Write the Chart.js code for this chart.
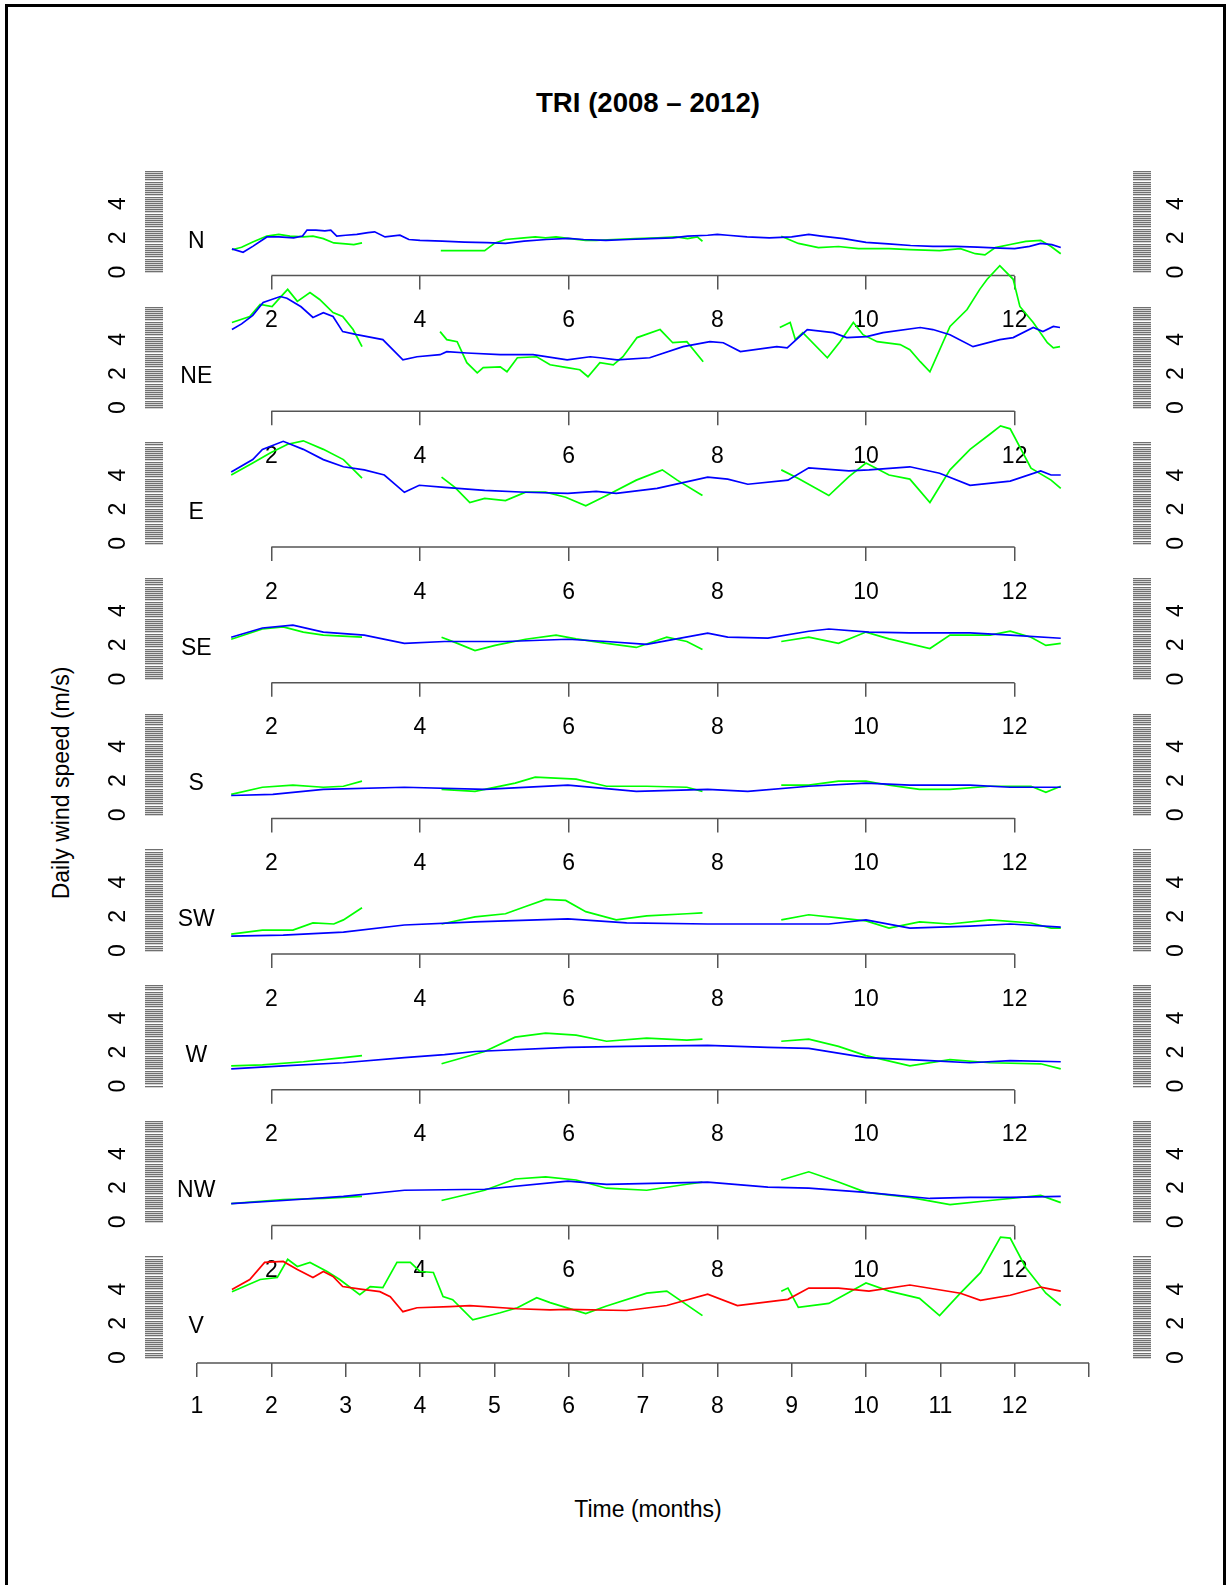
<!DOCTYPE html>
<html>
<head>
<meta charset="utf-8">
<title>TRI (2008 – 2012)</title>
<script src="https://cdn.jsdelivr.net/npm/chart.js@4.4.1/dist/chart.umd.min.js"></script>
<style>
  html, body { margin: 0; padding: 0; background: #fff; }
  #page { position: relative; width: 1226px; height: 1585px; overflow: hidden;
          font-family: "Liberation Sans", Arial, sans-serif; color: #000; }
  #page canvas { position: absolute; left: 0; top: 0; }
  .frame { position: absolute; left: 5px; top: 4px; width: 1215px; height: 1600px;
           border-left: 3px solid #000; border-top: 3px solid #000; border-right: 3px solid #000; }
  .main-title { position: absolute; left: 0; width: 1296px; top: 87px; text-align: center;
                font-weight: bold; font-size: 27.6px; line-height: 32px; }
  .x-title { position: absolute; left: 0; width: 1296px; top: 1495px; text-align: center;
             font-size: 23px; line-height: 28px; }
  .y-title { position: absolute; left: 61px; top: 783px; white-space: nowrap; font-size: 23px;
             line-height: 28px; transform: translate(-50%, -50%) rotate(-90deg); }
</style>
</head>
<body>
<div id="page">
  <div class="frame"></div>
  <div class="main-title">TRI (2008 – 2012)</div>
  <div class="y-title">Daily wind speed (m/s)</div>
  <div class="x-title">Time (months)</div>
</div>
<script>
// ---- Data: smoothed daily wind speed (m/s) against time in months ----
// Each series is a list of [month, speed]; null marks a break in the record.

const nBlue = [[1.47,1.35],[1.62,1.15],[1.75,1.5],[1.94,2.05],[2.1,2.05],[2.3,2.0],[2.42,2.1],[2.48,2.45],[2.6,2.45],[2.72,2.4],[2.8,2.45],[2.88,2.1],[3.0,2.15],[3.15,2.2],[3.3,2.3],[3.39,2.35],[3.53,2.05],[3.73,2.15],[3.85,1.9],[4.0,1.85],[4.3,1.8],[4.6,1.75],[4.9,1.72],[5.15,1.67],[5.4,1.8],[5.7,1.9],[5.99,1.97],[6.2,1.9],[6.5,1.85],[6.8,1.9],[7.1,1.95],[7.4,2.0],[7.6,2.1],[7.87,2.15],[8.0,2.2],[8.14,2.15],[8.4,2.05],[8.7,2.0],[9.0,2.05],[9.23,2.2],[9.4,2.1],[9.7,1.95],[10.0,1.73],[10.3,1.65],[10.6,1.55],[10.9,1.5],[11.2,1.5],[11.5,1.45],[11.8,1.4],[12.0,1.37],[12.2,1.5],[12.35,1.67],[12.5,1.6],[12.62,1.43]];
const nGreen = [[1.47,1.3],[1.6,1.45],[1.75,1.75],[1.94,2.1],[2.1,2.2],[2.25,2.1],[2.43,2.05],[2.56,2.1],[2.7,1.95],[2.84,1.7],[3.0,1.65],[3.11,1.6],[3.22,1.7],null,
  [4.28,1.25],[4.5,1.25],[4.87,1.25],[5.01,1.7],[5.15,1.9],[5.4,2.0],[5.55,2.05],[5.69,2.0],[5.83,2.05],[5.99,1.97],[6.23,1.85],[6.37,1.85],[6.6,1.9],[6.9,1.95],[7.2,2.0],[7.45,2.05],[7.6,1.95],[7.73,2.05],[7.8,1.8],null,
  [8.86,2.09],[9.09,1.67],[9.36,1.43],[9.63,1.49],[9.9,1.37],[10.31,1.37],[10.59,1.31],[10.99,1.25],[11.27,1.37],[11.47,1.07],[11.6,1.0],[11.74,1.43],[11.94,1.61],[12.15,1.79],[12.35,1.85],[12.49,1.49],[12.62,1.07]];

const neBlue = [[1.47,4.57],[1.6,4.9],[1.75,5.4],[1.89,6.16],[2.12,6.5],[2.21,6.4],[2.4,5.9],[2.56,5.28],[2.7,5.56],[2.83,5.33],[2.96,4.45],[3.15,4.27],[3.5,3.98],[3.77,2.8],[3.96,2.98],[4.27,3.1],[4.36,3.28],[4.63,3.2],[5.08,3.1],[5.52,3.1],[5.98,2.8],[6.29,2.98],[6.42,2.92],[6.65,2.8],[7.09,2.92],[7.54,3.57],[7.9,3.86],[8.08,3.8],[8.31,3.28],[8.8,3.57],[8.94,3.5],[9.21,4.57],[9.56,4.39],[9.74,4.1],[10.01,4.16],[10.23,4.39],[10.73,4.69],[10.9,4.57],[11.13,4.27],[11.44,3.57],[11.8,3.98],[11.98,4.1],[12.25,4.69],[12.38,4.45],[12.52,4.75],[12.61,4.69]];
const neGreen = [[1.47,4.98],[1.71,5.33],[1.85,6.04],[2.01,5.92],[2.12,6.45],[2.22,6.92],[2.35,6.22],[2.52,6.74],[2.65,6.33],[2.83,5.56],[2.96,5.33],[3.1,4.57],[3.22,3.57],null,
  [4.27,4.45],[4.36,3.98],[4.5,3.86],[4.63,2.63],[4.77,2.04],[4.85,2.34],[5.08,2.39],[5.17,2.1],[5.31,2.92],[5.57,2.98],[5.75,2.51],[5.98,2.34],[6.15,2.22],[6.26,1.81],[6.42,2.63],[6.6,2.51],[6.73,2.98],[6.92,4.1],[7.23,4.57],[7.4,3.8],[7.59,3.86],[7.81,2.69],null,
  [8.84,4.69],[8.98,4.98],[9.05,3.98],[9.15,4.39],[9.48,2.92],[9.65,3.86],[9.83,4.98],[9.96,4.27],[10.15,3.86],[10.46,3.69],[10.59,3.39],[10.73,2.69],[10.86,2.1],[11.13,4.75],[11.36,5.74],[11.53,6.92],[11.63,7.51],[11.8,8.3],[11.98,7.51],[12.07,5.92],[12.25,4.98],[12.44,3.8],[12.52,3.5],[12.61,3.57]];

const eBlue = [[1.46,4.18],[1.75,4.9],[1.88,5.5],[2.16,5.97],[2.43,5.5],[2.7,4.9],[2.97,4.48],[3.25,4.3],[3.52,4.0],[3.79,2.99],[3.99,3.4],[4.33,3.28],[4.87,3.1],[5.42,2.99],[5.99,2.93],[6.37,3.04],[6.64,2.93],[7.19,3.22],[7.87,3.88],[8.14,3.76],[8.41,3.46],[8.95,3.7],[9.23,4.42],[9.77,4.24],[10.04,4.3],[10.59,4.48],[10.99,4.1],[11.4,3.4],[11.94,3.64],[12.35,4.24],[12.49,4.0],[12.62,4.0]];
const eGreen = [[1.46,4.0],[1.75,4.7],[1.99,5.3],[2.22,5.8],[2.43,6.0],[2.7,5.5],[2.97,4.9],[3.22,3.82],null,
  [4.29,3.88],[4.47,3.28],[4.67,2.39],[4.87,2.63],[5.15,2.5],[5.42,3.0],[5.69,3.0],[5.96,2.7],[6.23,2.2],[6.51,2.8],[6.91,3.7],[7.26,4.3],[7.46,3.7],[7.8,2.8],null,
  [8.86,4.3],[9.09,3.8],[9.5,2.8],[9.77,3.9],[10.0,4.7],[10.31,4.0],[10.59,3.76],[10.86,2.39],[11.13,4.3],[11.4,5.5],[11.67,6.4],[11.81,6.87],[11.94,6.7],[12.22,4.4],[12.49,3.7],[12.62,3.22]];

const seBlue = [[1.46,2.45],[1.88,2.99],[2.29,3.16],[2.7,2.75],[3.25,2.57],[3.79,2.09],[4.33,2.2],[5.15,2.2],[5.99,2.33],[6.51,2.2],[7.05,2.03],[7.87,2.69],[8.14,2.45],[8.68,2.4],[9.23,2.8],[9.5,2.93],[10.04,2.75],[10.59,2.7],[11.4,2.7],[11.94,2.57],[12.62,2.39]];
const seGreen = [[1.46,2.33],[1.88,2.93],[2.16,3.05],[2.43,2.75],[2.7,2.57],[3.22,2.45],null,
  [4.29,2.45],[4.47,2.15],[4.74,1.67],[5.01,1.97],[5.42,2.33],[5.83,2.57],[6.1,2.35],[6.51,2.09],[6.91,1.85],[7.32,2.45],[7.59,2.2],[7.8,1.73],null,
  [8.86,2.2],[9.23,2.45],[9.63,2.09],[10.0,2.75],[10.31,2.35],[10.86,1.79],[11.13,2.57],[11.67,2.57],[11.94,2.8],[12.22,2.45],[12.42,1.97],[12.62,2.09]];

const sBlue = [[1.46,1.13],[2.02,1.19],[2.7,1.49],[3.79,1.61],[4.87,1.49],[5.99,1.73],[6.91,1.37],[7.87,1.49],[8.41,1.37],[9.23,1.67],[10.0,1.85],[10.59,1.73],[11.4,1.73],[11.94,1.61],[12.62,1.61]];
const sGreen = [[1.46,1.19],[1.88,1.61],[2.29,1.73],[2.7,1.61],[2.97,1.67],[3.22,1.97],null,
  [4.29,1.49],[4.74,1.37],[5.28,1.85],[5.55,2.2],[6.1,2.09],[6.51,1.67],[7.05,1.67],[7.59,1.61],[7.8,1.37],null,
  [8.86,1.73],[9.23,1.73],[9.63,1.97],[10.0,1.97],[10.31,1.73],[10.72,1.49],[11.13,1.49],[11.67,1.67],[12.22,1.67],[12.42,1.31],[12.62,1.67]];

const swBlue = [[1.46,0.84],[2.16,0.9],[2.97,1.07],[3.79,1.49],[4.74,1.67],[5.99,1.85],[6.78,1.61],[7.87,1.55],[8.68,1.55],[9.5,1.55],[10.0,1.79],[10.59,1.31],[11.4,1.43],[11.94,1.55],[12.62,1.37]];
const swGreen = [[1.46,0.96],[1.88,1.19],[2.29,1.19],[2.56,1.61],[2.84,1.55],[2.97,1.79],[3.22,2.5],null,
  [4.29,1.55],[4.74,1.97],[5.15,2.15],[5.42,2.57],[5.69,2.99],[5.96,2.93],[6.23,2.27],[6.64,1.79],[7.05,2.03],[7.59,2.15],[7.8,2.2],null,
  [8.86,1.79],[9.23,2.09],[9.63,1.91],[10.0,1.73],[10.31,1.31],[10.72,1.67],[11.13,1.55],[11.67,1.79],[12.22,1.61],[12.49,1.31],[12.62,1.31]];

const wBlue = [[1.46,1.01],[2.16,1.19],[2.97,1.37],[3.79,1.67],[4.33,1.85],[4.74,2.03],[5.99,2.27],[6.78,2.33],[7.87,2.39],[8.68,2.27],[9.23,2.21],[10.0,1.67],[10.86,1.49],[11.4,1.37],[11.94,1.49],[12.62,1.43]];
const wGreen = [[1.46,1.19],[1.88,1.25],[2.43,1.43],[2.97,1.67],[3.22,1.79],null,
  [4.29,1.31],[4.87,2.03],[5.28,2.87],[5.69,3.1],[6.1,2.99],[6.51,2.63],[7.05,2.81],[7.59,2.69],[7.8,2.75],null,
  [8.86,2.63],[9.23,2.75],[9.63,2.33],[10.0,1.79],[10.59,1.19],[11.13,1.55],[11.67,1.37],[12.35,1.31],[12.62,1.01]];

const nwBlue = [[1.46,1.07],[2.16,1.25],[2.97,1.49],[3.79,1.85],[4.87,1.91],[5.99,2.39],[6.51,2.2],[7.87,2.33],[8.68,2.03],[9.23,1.97],[10.0,1.73],[10.86,1.37],[11.4,1.43],[11.94,1.43],[12.62,1.49]];
const nwGreen = [[1.46,1.07],[2.16,1.31],[2.7,1.37],[3.22,1.49],null,
  [4.29,1.25],[4.87,1.85],[5.28,2.51],[5.69,2.63],[6.1,2.45],[6.51,1.97],[7.05,1.85],[7.59,2.2],[7.8,2.33],null,
  [8.86,2.45],[9.23,2.93],[9.63,2.33],[10.0,1.73],[10.59,1.43],[11.13,1.01],[11.67,1.25],[12.35,1.55],[12.62,1.13]];

const vRed = [[1.47,3.97],[1.71,4.56],[1.91,5.56],[2.16,5.62],[2.35,5.15],[2.56,4.68],[2.70,5.03],[2.83,4.74],[2.96,4.15],[3.2,4.0],[3.46,3.85],[3.6,3.56],[3.77,2.68],[3.96,2.91],[4.4,2.97],[4.67,3.03],[5.31,2.85],[5.75,2.79],[5.99,2.81],[6.78,2.75],[7.32,3.04],[7.87,3.7],[8.27,3.04],[8.95,3.4],[9.23,4.06],[9.63,4.06],[10.04,3.88],[10.59,4.24],[11.27,3.76],[11.54,3.34],[11.94,3.64],[12.35,4.12],[12.62,3.88]];
const vGreen = [[1.47,3.85],[1.85,4.56],[2.08,4.68],[2.22,5.74],[2.35,5.32],[2.52,5.56],[2.75,5.03],[2.92,4.56],[3.19,3.68],[3.33,4.15],[3.5,4.09],[3.69,5.56],[3.87,5.56],[4.0,5.03],[4.18,4.97],[4.31,3.56],[4.44,3.38],[4.71,2.2],[5.08,2.62],[5.31,2.91],[5.57,3.5],[5.75,3.21],[6.23,2.57],[6.5,3.0],[7.05,3.76],[7.32,3.88],[7.8,2.45],null,
  [8.86,3.88],[8.95,4.06],[9.09,2.93],[9.5,3.16],[10.0,4.36],[10.31,3.88],[10.72,3.46],[10.99,2.45],[11.27,3.76],[11.54,4.96],[11.81,7.04],[11.94,6.98],[12.15,5.25],[12.42,3.76],[12.62,3.04]];

// Panel names, top to bottom
const panelNames = ['N', 'NE', 'E', 'SE', 'S', 'SW', 'W', 'NW', 'V'];

// Tick values and labels
const upperXTicks = [2, 4, 6, 8, 10, 12];
const upperXLabels = ['2', '4', '6', '8', '10', '12'];
const bottomXTicks = [1, 2, 3, 4, 5, 6, 7, 8, 9, 10, 11, 12, 13];
const bottomXLabels = ['1', '2', '3', '4', '5', '6', '7', '8', '9', '10', '11', '12', ''];
const yLabelledTicks = [0, 2, 4];
const yMinorStep = 0.125;
const yMinorTop = 5.875;

// ---- Layout ----
const W = 1226, H = 1585;
const FONT = '"Liberation Sans", Arial, sans-serif';
const AXIS_COLOR = '#555';
const BLUE = '#0000ff', GREEN = '#00ff00', RED = '#ff0000';
const PX_PER_UNIT = 17.1;
const ZERO_Y = [272, 407.7, 543.4, 679.1, 814.8, 950.5, 1086.2, 1221.9, 1357.5];
const X_MIN = 0.5426, X_MAX = 13.592;     // plot spans 163..1133 px
const LEFT_AXIS_W = 163, RIGHT_AXIS_W = 93, X_AXIS_H = 60;
const LABEL_AT = { month: 0.99, speed: 1.8 };

const yTickValues = [];
for (let v = 0; v <= yMinorTop + 1e-9; v += yMinorStep) yTickValues.push(+v.toFixed(3));

function yLabel(v) {
  const hit = yLabelledTicks.find(t => Math.abs(t - v) < 1e-6);
  return hit === undefined ? '' : String(hit);
}

function toPoints(series) {
  const out = [];
  let lastX = 0;
  for (const p of series) {
    if (p === null) { out.push({ x: lastX, y: null }); continue; }
    lastX = p[0];
    out.push({ x: p[0], y: p[1] });
  }
  return out;
}

// Draws the x-axis line between the outer ticks, and the panel name.
const panelDecor = {
  id: 'panelDecor',
  afterDraw(chart, args, opts) {
    const { ctx, chartArea } = chart;
    const xs = chart.scales.x, ys = chart.scales.y;
    ctx.save();
    ctx.strokeStyle = AXIS_COLOR;
    ctx.lineWidth = 1.5;
    ctx.beginPath();
    ctx.moveTo(xs.getPixelForValue(opts.from), chartArea.bottom);
    ctx.lineTo(xs.getPixelForValue(opts.to), chartArea.bottom);
    ctx.stroke();
    ctx.fillStyle = '#000';
    ctx.font = '23px ' + FONT;
    ctx.textAlign = 'center';
    ctx.textBaseline = 'middle';
    ctx.fillText(opts.name, xs.getPixelForValue(LABEL_AT.month), ys.getPixelForValue(LABEL_AT.speed));
    ctx.restore();
  }
};

function yAxis(position, width, yMin, yMax) {
  return {
    type: 'linear', position, min: yMin, max: yMax,
    afterBuildTicks: s => { s.ticks = yTickValues.map(v => ({ value: v })); },
    afterFit: s => { s.width = width; },
    ticks: { autoSkip: false, minRotation: 90, maxRotation: 90, crossAlign: 'center', padding: 19.6,
             color: '#000', font: { family: FONT, size: 23 }, callback: v => yLabel(v) },
    grid: { drawOnChartArea: false, drawTicks: true, tickLength: 18, color: '#707070', lineWidth: 1.3 },
    border: { display: false }
  };
}

function makePanel(idx, seriesList) {
  const page = document.getElementById('page');
  const canvas = document.createElement('canvas');
  canvas.width = W; canvas.height = H;
  canvas.style.width = W + 'px'; canvas.style.height = H + 'px';
  page.appendChild(canvas);

  const isBottom = idx === panelNames.length - 1;
  const y0 = ZERO_Y[idx];
  const axisY = y0 + (isBottom ? 5.5 : 3.6);
  const yMin = -(axisY - y0) / PX_PER_UNIT;
  const yMax = 7;
  const top = y0 - yMax * PX_PER_UNIT;
  const xTicks = isBottom ? bottomXTicks : upperXTicks;
  const xLabels = isBottom ? bottomXLabels : upperXLabels;

  new Chart(canvas, {
    type: 'line',
    data: {
      datasets: seriesList.map(s => ({
        data: toPoints(s.data), borderColor: s.color, borderWidth: 1.7,
        pointRadius: 0, fill: false, tension: 0, clip: false, spanGaps: false
      }))
    },
    options: {
      responsive: false, animation: false, devicePixelRatio: 1, events: [],
      layout: { padding: { top: top, bottom: H - axisY - X_AXIS_H, left: 0, right: 0 } },
      plugins: {
        legend: { display: false }, tooltip: { enabled: false },
        panelDecor: { name: panelNames[idx], from: xTicks[0], to: xTicks[xTicks.length - 1] }
      },
      scales: {
        x: {
          type: 'linear', position: 'bottom', min: X_MIN, max: X_MAX,
          afterBuildTicks: s => { s.ticks = xTicks.map(v => ({ value: v })); },
          afterFit: s => { s.height = X_AXIS_H; },
          ticks: { autoSkip: false, maxRotation: 0, minRotation: 0, padding: isBottom ? 15.5 : 17.5,
                   color: '#000', font: { family: FONT, size: 23 }, callback: (v, i) => xLabels[i] },
          grid: { drawOnChartArea: false, drawTicks: true, tickLength: 14, color: AXIS_COLOR, lineWidth: 1.5 },
          border: { display: false }
        },
        y: yAxis('left', LEFT_AXIS_W, yMin, yMax),
        y2: yAxis('right', RIGHT_AXIS_W, yMin, yMax)
      }
    },
    plugins: [panelDecor]
  });
}

const panels = [
  [{ data: nBlue, color: BLUE }, { data: nGreen, color: GREEN }],
  [{ data: neBlue, color: BLUE }, { data: neGreen, color: GREEN }],
  [{ data: eBlue, color: BLUE }, { data: eGreen, color: GREEN }],
  [{ data: seBlue, color: BLUE }, { data: seGreen, color: GREEN }],
  [{ data: sBlue, color: BLUE }, { data: sGreen, color: GREEN }],
  [{ data: swBlue, color: BLUE }, { data: swGreen, color: GREEN }],
  [{ data: wBlue, color: BLUE }, { data: wGreen, color: GREEN }],
  [{ data: nwBlue, color: BLUE }, { data: nwGreen, color: GREEN }],
  [{ data: vRed, color: RED }, { data: vGreen, color: GREEN }]
];
panels.forEach((p, i) => makePanel(i, p));
</script>
</body>
</html>
